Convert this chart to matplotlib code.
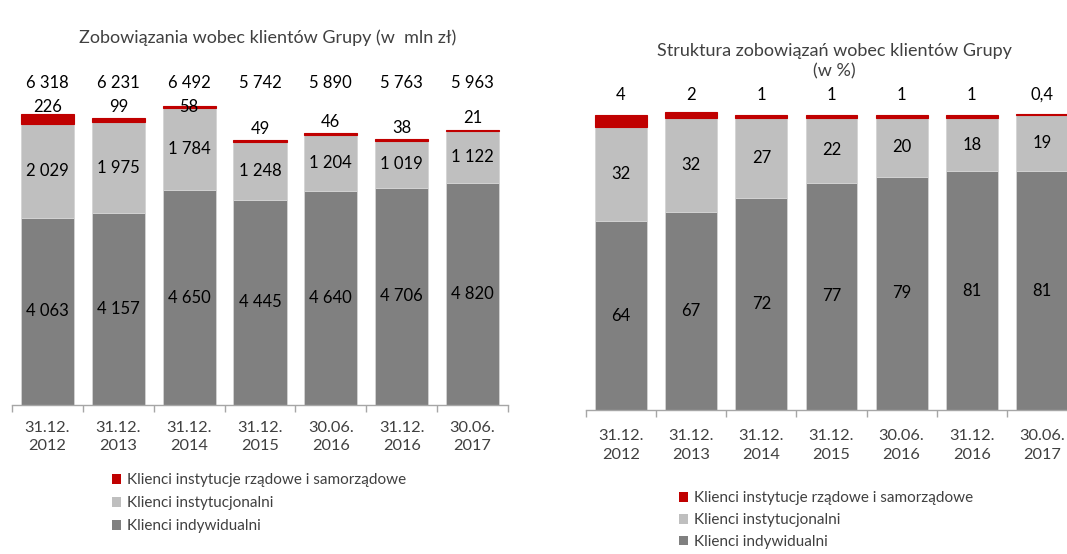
import matplotlib
matplotlib.use("Agg")
import matplotlib.pyplot as plt
from matplotlib.patches import Patch

plt.rcParams['font.family'] = ['Lato', 'DejaVu Sans']

categories = ["31.12.\n2012", "31.12.\n2013", "31.12.\n2014", "31.12.\n2015",
              "30.06.\n2016", "31.12.\n2016", "30.06.\n2017"]
totals = [6318, 6231, 6492, 5742, 5890, 5763, 5963]
indywidualni = [4063, 4157, 4650, 4445, 4640, 4706, 4820]
instytucjonalni = [2029, 1975, 1784, 1248, 1204, 1019, 1122]
rzadowe = [226, 99, 58, 49, 46, 38, 21]

pct_indywidualni = [64, 67, 72, 77, 79, 81, 81]
pct_instytucjonalni = [32, 32, 27, 22, 20, 18, 19]
pct_rzadowe = [4, 2, 1, 1, 1, 1, 0.4]

legend_labels = ["Klienci instytucje rządowe i samorządowe",
                 "Klienci instytucjonalni",
                 "Klienci indywidualni"]
title_left = "Zobowiązania wobec klientów Grupy (w  mln zł)"
title_right = "Struktura zobowiązań wobec klientów Grupy\n(w %)"

RED = "#C00000"
LIGHT = "#BFBFBF"
DARK = "#808080"
EDGE = "#D4D4D4"
TXT = "#404040"

W, H = 1067, 554
fig = plt.figure(figsize=(W / 100, H / 100), dpi=100)


def fmt_th(v):
    return f"{v:,}".replace(",", " ")


def fmt_pct(v):
    return (f"{v:g}").replace(".", ",")


def style_axis(ax, pad):
    for s in ["top", "right", "left"]:
        ax.spines[s].set_visible(False)
    ax.spines["bottom"].set_color("#A6A6A6")
    ax.spines["bottom"].set_linewidth(1.0)
    ax.set_yticks([])
    ax.set_xlim(-0.5, len(categories) - 0.5)
    ax.set_xticks(range(len(categories)))
    ax.set_xticklabels(categories, fontsize=11.8, color=TXT, linespacing=1.4)
    ax.tick_params(axis="x", which="major", length=0, pad=pad)
    ax.set_xticks([i - 0.5 for i in range(len(categories) + 1)], minor=True)
    ax.tick_params(axis="x", which="minor", length=5, color="#A6A6A6", width=1)


x = list(range(len(categories)))

# Left chart
ax1 = fig.add_axes([12 / W, (H - 405) / H, 496 / W, 346 / H])
bw = 0.75
ax1.bar(x, indywidualni, bw, color=DARK, edgecolor=EDGE, linewidth=0.6)
ax1.bar(x, instytucjonalni, bw, bottom=indywidualni, color=LIGHT, edgecolor=EDGE, linewidth=0.6)
b2 = [a + b for a, b in zip(indywidualni, instytucjonalni)]
ax1.bar(x, rzadowe, bw, bottom=b2, color=RED, edgecolor=RED, linewidth=0.8)
ax1.set_ylim(0, 7500)
style_axis(ax1, 11.5)
for i in x:
    top = b2[i] + rzadowe[i]
    ax1.text(i, indywidualni[i] / 2, fmt_th(indywidualni[i]), ha="center", va="center",
             fontsize=12, color="black")
    ax1.text(i, indywidualni[i] + instytucjonalni[i] / 2, fmt_th(instytucjonalni[i]),
             ha="center", va="center", fontsize=12, color="black")
    ax1.text(i, min(top + 250, 6450), fmt_th(rzadowe[i]), ha="center", va="center",
             fontsize=12, color="black")
    ax1.text(i, 6985, fmt_th(totals[i]), ha="center", va="center", fontsize=12, color="black")

fig.text(268 / W, 1 - 38 / H, title_left, ha="center", va="center", fontsize=13, color=TXT)

# Right chart
ax2 = fig.add_axes([586 / W, (H - 410) / H, 491 / W, 324.5 / H])
bw2 = 0.74
ax2.bar(x, pct_indywidualni, bw2, color=DARK, edgecolor=EDGE, linewidth=0.6)
ax2.bar(x, pct_instytucjonalni, bw2, bottom=pct_indywidualni, color=LIGHT, edgecolor=EDGE, linewidth=0.6)
p2 = [a + b for a, b in zip(pct_indywidualni, pct_instytucjonalni)]
ax2.bar(x, pct_rzadowe, bw2, bottom=p2, color=RED, edgecolor=RED, linewidth=0.8)
ax2.set_ylim(0, 110)
style_axis(ax2, 14)
for i in x:
    ax2.text(i, pct_indywidualni[i] / 2, fmt_pct(pct_indywidualni[i]), ha="center", va="center",
             fontsize=12, color="black")
    ax2.text(i, pct_indywidualni[i] + pct_instytucjonalni[i] / 2, fmt_pct(pct_instytucjonalni[i]),
             ha="center", va="center", fontsize=12, color="black")
    ax2.text(i, 106.8, fmt_pct(pct_rzadowe[i]), ha="center", va="center", fontsize=12, color="black")

fig.text(834 / W, 1 - 61 / H, title_right, ha="center", va="center", fontsize=13,
         color=TXT, linespacing=1.35)

handles = [Patch(facecolor=RED), Patch(facecolor=LIGHT), Patch(facecolor=DARK)]
for (lx, ly, sp) in [(112, 473, 0.6), (679, 491, 0.52)]:
    fig.legend(handles, legend_labels, loc="upper left",
               bbox_to_anchor=(lx / W, 1 - ly / H), frameon=False, fontsize=11,
               handlelength=0.62, handleheight=0.62, handletextpad=0.35,
               labelspacing=sp, borderpad=0, borderaxespad=0, labelcolor=TXT)

fig.savefig("out.png", dpi=100)
